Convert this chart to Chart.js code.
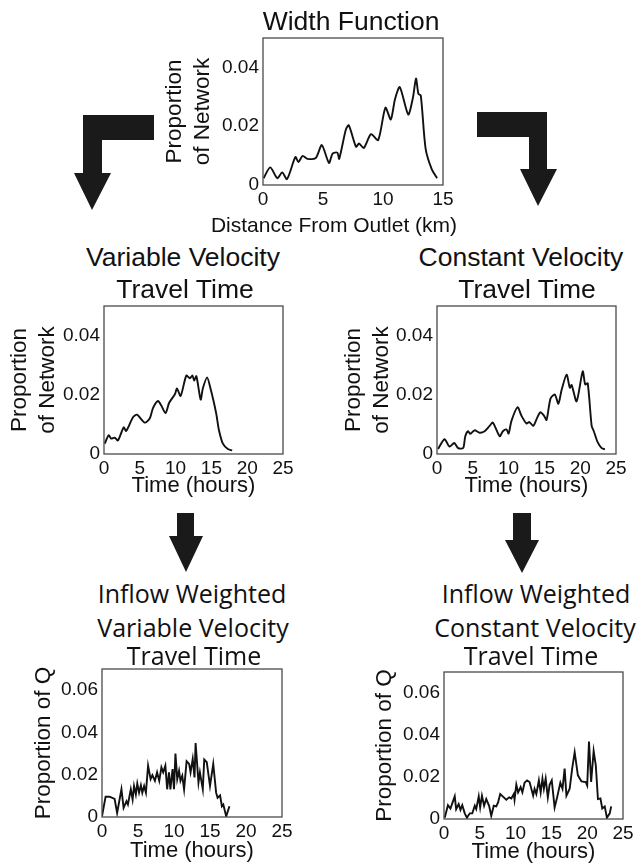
<!DOCTYPE html>
<html>
<head>
<meta charset="utf-8">
<title>Width function and travel time distributions</title>
<script src="https://cdn.jsdelivr.net/npm/chart.js@4.4.0/dist/chart.umd.min.js"></script>
<style>
  body { margin: 0; background: #fff; }
  #page { position: relative; width: 638px; height: 867px; overflow: hidden; color: #111;
          font-family: 'Liberation Sans', Arial, sans-serif; }
  canvas { position: absolute; }
  .lbl { position: absolute; white-space: nowrap; transform: translateX(-50%); }
  .arial { font-size: 26.5px; line-height: 26.5px; }
  .myriad { font-family: 'Open Sans', sans-serif; font-size: 25px; line-height: 25px; }
  svg { position: absolute; left: 0; top: 0; pointer-events: none; }
</style>
</head>
<body>
<div id="page">
  <canvas id="widthChart"></canvas>
  <canvas id="varChart"></canvas>
  <canvas id="constChart"></canvas>
  <canvas id="qVarChart"></canvas>
  <canvas id="qConstChart"></canvas>

  <div class="lbl arial" style="left:351px; top:8px;">Width Function</div>
  <div class="lbl" style="left:334px; top:214px; font-size:21px; line-height:21px;">Distance From Outlet (km)</div>

  <div class="lbl arial" style="left:183px; top:244px;">Variable Velocity</div>
  <div class="lbl arial" style="left:185px; top:276px;">Travel Time</div>
  <div class="lbl arial" style="left:521px; top:244px;">Constant Velocity</div>
  <div class="lbl arial" style="left:527px; top:276px;">Travel Time</div>

  <div class="lbl myriad" style="left:192px; top:581px;">Inflow Weighted</div>
  <div class="lbl myriad" style="left:193px; top:615px;">Variable Velocity</div>
  <div class="lbl myriad" style="left:194px; top:643px;">Travel Time</div>
  <div class="lbl myriad" style="left:536px; top:581px;">Inflow Weighted</div>
  <div class="lbl myriad" style="left:535px; top:615px;">Constant Velocity</div>
  <div class="lbl myriad" style="left:531px; top:643px;">Travel Time</div>

  <!-- flow arrows between the panels -->
  <svg width="638" height="867">
    <g fill="#1a1a1a">
      <polygon points="154,115 154,140 102,140 102,173 111,173 92,210 74,173 83,173 83,115"/>
      <polygon points="477,112 547,112 547,169 557,169 538,206 520,169 529,169 529,137 477,137"/>
      <polygon points="177,513 194,513 194,536 203,536 186,572 169,536 177,536"/>
      <polygon points="513,513 531,513 531,540 539,540 522,573 505,540 513,540"/>
    </g>
  </svg>
</div>

<script>
// --- DATA ---
const distTicks = [0, 5, 10, 15];
const timeTicks = [0, 5, 10, 15, 20, 25];
const propTicks = [0, 0.02, 0.04];
const qTicks = [0, 0.02, 0.04, 0.06];

// width function (km, proportion of network)
const widthDist = [0.05, 0.6, 1.2, 1.6, 2.0, 2.7, 2.95, 3.3, 3.7, 4.4, 4.9, 5.5, 5.8, 6.2, 6.35, 6.9, 7.15, 7.75, 8.0, 8.4, 9.0, 9.6, 10.2, 10.65, 11.0, 11.4, 12.1, 12.5, 12.75, 12.95, 13.15, 13.55, 14.05, 14.5];
const widthProp = [0.0023, 0.006, 0.0023, 0.0043, 0.002, 0.0095, 0.0078, 0.0099, 0.0089, 0.0092, 0.0136, 0.0075, 0.0107, 0.011, 0.0089, 0.0188, 0.0203, 0.013, 0.0141, 0.0126, 0.0173, 0.0153, 0.0263, 0.0223, 0.0292, 0.0333, 0.024, 0.0298, 0.0362, 0.031, 0.0304, 0.0124, 0.0055, 0.0023];

// variable velocity travel time (hours, proportion of network)
const varTime = [0.1, 0.65, 1.0, 1.5, 1.95, 2.75, 3.1, 4.05, 4.6, 5.7, 6.4, 6.85, 7.55, 8.0, 8.6, 9.1, 9.9, 10.2, 10.7, 11.5, 12.0, 12.35, 12.6, 12.9, 13.5, 13.8, 14.4, 14.9, 15.3, 15.7, 16.05, 16.6, 17.3, 17.9];
const varProp = [0.0035, 0.0063, 0.0052, 0.0055, 0.0046, 0.009, 0.0078, 0.0124, 0.0133, 0.0106, 0.0121, 0.0156, 0.0179, 0.0164, 0.0138, 0.0173, 0.0202, 0.0221, 0.0196, 0.0265, 0.0256, 0.0265, 0.0248, 0.0263, 0.0184, 0.0221, 0.0259, 0.0219, 0.0179, 0.0133, 0.0081, 0.0035, 0.0017, 0.0012];

// constant velocity travel time
const constTime = [0.15, 1.05, 1.75, 2.4, 2.95, 3.65, 3.95, 4.35, 4.65, 5.25, 5.95, 6.65, 7.35, 7.8, 8.75, 9.2, 9.7, 10.0, 10.4, 11.25, 11.8, 12.5, 12.9, 13.45, 14.0, 14.45, 14.95, 15.3, 15.85, 16.45, 16.95, 17.4, 18.1, 18.55, 18.8, 19.5, 20.35, 20.7, 21.05, 21.6, 21.9, 22.4, 23.0, 23.45];
const constProp = [0.0017, 0.005, 0.0025, 0.0037, 0.002, 0.002, 0.006, 0.0077, 0.0068, 0.008, 0.0072, 0.0077, 0.0095, 0.0106, 0.006, 0.0077, 0.0083, 0.0069, 0.0112, 0.0158, 0.0129, 0.0103, 0.0108, 0.0095, 0.0123, 0.0141, 0.0129, 0.0115, 0.0187, 0.0201, 0.017, 0.0216, 0.0268, 0.0224, 0.0233, 0.0178, 0.0279, 0.0235, 0.0239, 0.0095, 0.0077, 0.0042, 0.002, 0.0016];

// inflow weighted, variable velocity (hours, proportion of Q)
const qVarTime = [0, 0.5, 1.05, 1.75, 2.1, 2.7, 3.0, 3.4, 3.6, 4.0, 4.25, 4.45, 4.7, 4.9, 5.15, 5.4, 5.6, 5.85, 6.1, 6.4, 6.75, 7.0, 7.35, 7.65, 7.95, 8.25, 8.5, 8.8, 9.05, 9.3, 9.5, 9.8, 10.0, 10.2, 10.45, 10.7, 10.9, 11.15, 11.4, 11.75, 12.1, 12.3, 12.6, 12.85, 13.0, 13.4, 13.6, 14.0, 14.2, 14.55, 15.0, 15.45, 15.85, 16.05, 16.4, 16.65, 16.85, 17.25, 17.7];
const qVarProp = [0.0003, 0.0096, 0.0096, 0.0086, 0.0019, 0.0131, 0.0043, 0.0075, 0.0059, 0.0131, 0.0083, 0.0147, 0.0107, 0.0158, 0.0115, 0.015, 0.0115, 0.0147, 0.0115, 0.0243, 0.0179, 0.0198, 0.0171, 0.0211, 0.0171, 0.0235, 0.0211, 0.0243, 0.0131, 0.0211, 0.0131, 0.0227, 0.0131, 0.03, 0.0179, 0.0219, 0.0171, 0.0195, 0.0131, 0.0264, 0.0251, 0.0211, 0.0275, 0.0187, 0.035, 0.0163, 0.0211, 0.0131, 0.0272, 0.0259, 0.0147, 0.0251, 0.0115, 0.0091, 0.0102, 0.0051, 0.0059, 0.0003, 0.0051];

// inflow weighted, constant velocity
const qConstTime = [0.1, 0.55, 0.9, 1.5, 1.7, 2.05, 2.3, 2.55, 2.9, 3.2, 3.6, 3.95, 4.3, 4.5, 4.85, 5.05, 5.3, 5.6, 5.9, 6.3, 6.6, 6.95, 7.3, 7.55, 7.85, 8.35, 8.7, 9.1, 9.4, 9.75, 9.85, 10.1, 10.35, 10.7, 10.95, 11.25, 11.6, 11.95, 12.45, 12.65, 12.9, 13.25, 13.5, 13.75, 13.95, 14.2, 14.5, 14.75, 15.05, 15.45, 15.8, 16.25, 16.55, 16.85, 17.1, 17.55, 17.9, 18.25, 18.7, 19.2, 19.8, 20.0, 20.25, 20.55, 20.9, 21.2, 21.5, 21.85, 22.1, 22.45, 22.75, 23.15, 23.35];
const qConstProp = [0.0006, 0.0066, 0.005, 0.0108, 0.0047, 0.0071, 0.0044, 0.0066, 0.0027, 0.0006, 0.0027, 0.0027, 0.0063, 0.0047, 0.0108, 0.0055, 0.0111, 0.0063, 0.0095, 0.0063, 0.0015, 0.0063, 0.006, 0.0079, 0.0119, 0.0103, 0.0092, 0.0103, 0.0098, 0.0119, 0.0092, 0.0163, 0.0127, 0.0152, 0.0127, 0.0173, 0.0184, 0.0176, 0.0111, 0.0144, 0.0119, 0.0184, 0.0127, 0.0192, 0.0144, 0.0192, 0.0103, 0.0163, 0.0184, 0.0055, 0.0103, 0.0173, 0.0144, 0.024, 0.0111, 0.0144, 0.024, 0.0318, 0.0208, 0.0179, 0.0176, 0.016, 0.0369, 0.0176, 0.0324, 0.0256, 0.0095, 0.0098, 0.005, 0.006, 0.0006, 0.0027, 0.006];

// --- STYLE ---
const FONT = "'Liberation Sans', Arial, sans-serif";
const INK = '#111';

// draws the full box around each plot area
const framePlugin = {
    id: 'frame',
    afterDraw(chart) {
        const { ctx, chartArea: a } = chart;
        ctx.save();
        ctx.strokeStyle = '#4a4a4a';
        ctx.lineWidth = 1.3;
        ctx.strokeRect(a.left, a.top, a.right - a.left, a.bottom - a.top);
        ctx.restore();
    }
};

function buildChart(cfg) {
    const canvas = document.getElementById(cfg.id);
    const padTop = 4, padRight = 14;
    canvas.width = cfg.yW + cfg.boxW + padRight;
    canvas.height = padTop + cfg.boxH + cfg.xH;
    canvas.style.left = cfg.left + 'px';
    canvas.style.top = (cfg.top - padTop) + 'px';

    return new Chart(canvas, {
        type: 'line',
        data: {
            datasets: [{
                data: cfg.xs.map((x, i) => ({ x, y: cfg.ys[i] })),
                borderColor: INK,
                borderWidth: 1.9,
                pointRadius: 0,
                tension: cfg.tension,
                fill: false
            }]
        },
        options: {
            responsive: false,
            animation: false,
            devicePixelRatio: 1,
            layout: { padding: { top: padTop, right: padRight, left: 0, bottom: 0 } },
            plugins: { legend: { display: false }, tooltip: { enabled: false } },
            scales: {
                x: {
                    type: 'linear',
                    min: 0,
                    max: cfg.xTicks[cfg.xTicks.length - 1],
                    grid: { display: false, drawTicks: false },
                    border: { display: false },
                    afterBuildTicks: s => { s.ticks = cfg.xTicks.map(v => ({ value: v })); },
                    afterFit: s => { s.height = cfg.xH; s.paddingLeft = 0; s.paddingRight = 0; },
                    ticks: {
                        font: { family: FONT, size: 19, lineHeight: 1 },
                        color: INK,
                        padding: 5,
                        maxRotation: 0,
                        autoSkip: false,
                        callback: v => String(v)
                    },
                    title: {
                        display: !!cfg.xTitle,
                        text: cfg.xTitle || '',
                        color: INK,
                        font: { family: FONT, size: 22, lineHeight: 1 },
                        padding: 0
                    }
                },
                y: {
                    min: 0,
                    max: cfg.yMax,
                    grid: { display: false, drawTicks: false },
                    border: { display: false },
                    afterBuildTicks: s => { s.ticks = cfg.yTicks.map(v => ({ value: v })); },
                    afterFit: s => { s.width = cfg.yW; s.paddingTop = 0; s.paddingBottom = 0; },
                    ticks: {
                        font: { family: FONT, size: 19, lineHeight: 1 },
                        color: INK,
                        padding: 4,
                        autoSkip: false,
                        callback: v => v === 0 ? '0' : v.toFixed(2)
                    },
                    title: {
                        display: true,
                        text: cfg.yTitle,
                        color: INK,
                        font: { family: FONT, size: 22.5, lineHeight: 1.25 },
                        padding: 0
                    }
                }
            }
        },
        plugins: [framePlugin]
    });
}

document.addEventListener('DOMContentLoaded', () => {
    const networkTitle = ['Proportion', 'of Network'];

    buildChart({ id: 'widthChart', left: 161, top: 38, yW: 102, boxW: 180, boxH: 147, xH: 30,
        xs: widthDist, ys: widthProp, xTicks: distTicks, yTicks: propTicks, yMax: 0.05,
        yTitle: networkTitle, tension: 0.25 });

    buildChart({ id: 'varChart', left: 6, top: 306, yW: 98, boxW: 179, boxH: 148, xH: 43,
        xs: varTime, ys: varProp, xTicks: timeTicks, yTicks: propTicks, yMax: 0.05,
        yTitle: networkTitle, xTitle: 'Time (hours)', tension: 0.25 });

    buildChart({ id: 'constChart', left: 340, top: 306, yW: 97, boxW: 179, boxH: 148, xH: 43,
        xs: constTime, ys: constProp, xTicks: timeTicks, yTicks: propTicks, yMax: 0.05,
        yTitle: networkTitle, xTitle: 'Time (hours)', tension: 0.25 });

    buildChart({ id: 'qVarChart', left: 30, top: 669, yW: 72, boxW: 180, boxH: 148, xH: 45,
        xs: qVarTime, ys: qVarProp, xTicks: timeTicks, yTicks: qTicks, yMax: 0.07,
        yTitle: 'Proportion of Q', xTitle: 'Time (hours)', tension: 0 });

    buildChart({ id: 'qConstChart', left: 371, top: 672, yW: 73, boxW: 179, boxH: 147, xH: 44,
        xs: qConstTime, ys: qConstProp, xTicks: timeTicks, yTicks: qTicks, yMax: 0.07,
        yTitle: 'Proportion of Q', xTitle: 'Time (hours)', tension: 0 });
});
</script>
</body>
</html>
